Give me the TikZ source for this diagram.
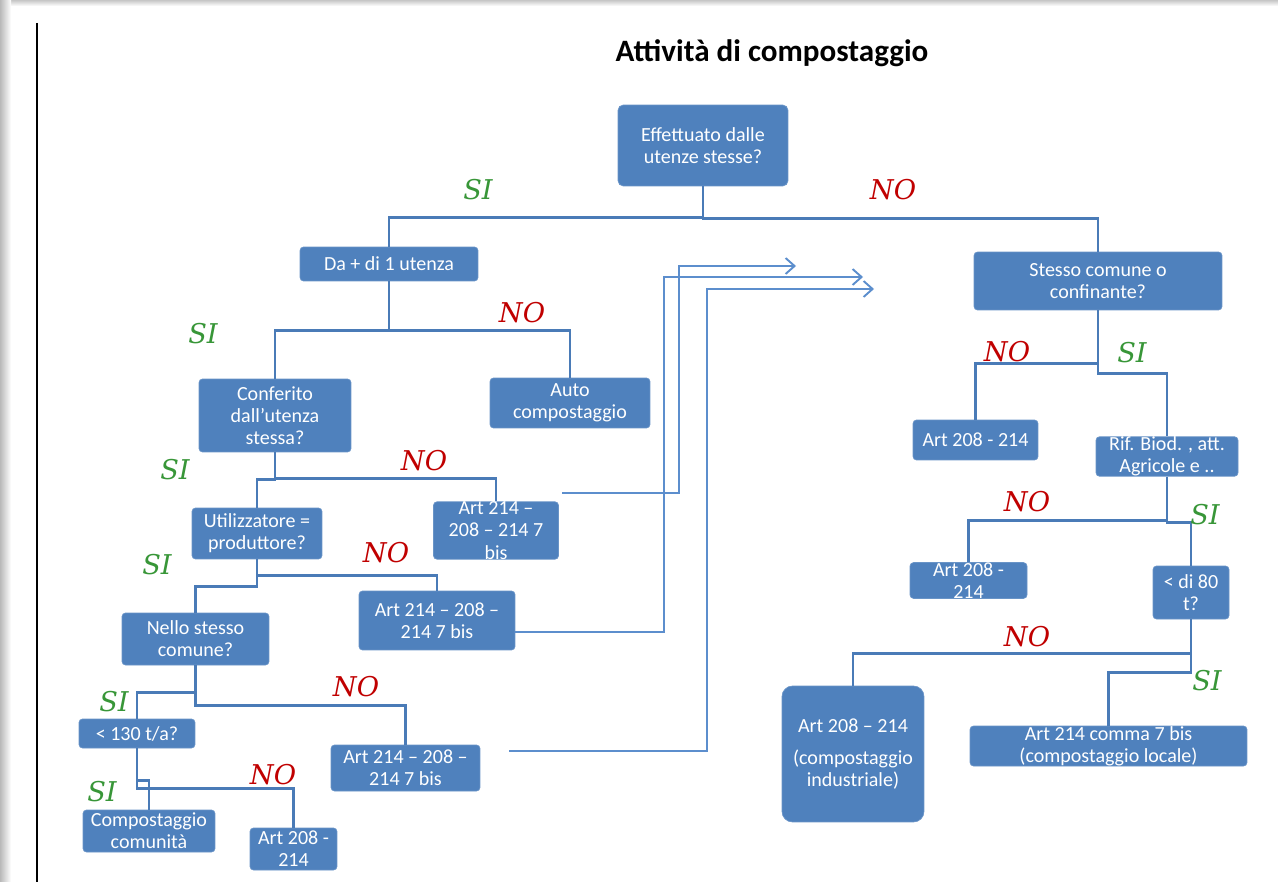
\documentclass[tikz,border=0pt]{standalone}
\usepackage{fontspec}
\setmainfont{Carlito}
\newfontfamily\labelfont{DejaVu Serif}
\usetikzlibrary{arrows.meta}

\definecolor{kastenblau}{RGB}{79,129,189}
\definecolor{linienblau}{RGB}{74,123,183}
\definecolor{pfeilblau}{RGB}{92,142,205}
\definecolor{sigruen}{RGB}{56,150,56}
\definecolor{norot}{RGB}{192,0,0}

\tikzset{
  kasten/.style={fill=kastenblau, draw=kastenblau!85!white, rounded corners=2pt,
    text=white, align=center, inner sep=0pt, font=\fontsize{11.4}{12.6}\selectfont},
  linie/.style={draw=linienblau, line width=1.5pt},
  pfeil/.style={draw=pfeilblau, line width=1.1pt, -{Straight Barb[length=1.8mm,width=3.2mm]}},
  siLabel/.style={text=sigruen, font=\labelfont\itshape\fontsize{15.5}{18}\selectfont},
  noLabel/.style={text=norot, font=\labelfont\itshape\fontsize{15.5}{18}\selectfont},
}

\begin{document}
\begin{tikzpicture}[x=0.02cm, y=-0.02cm]
\useasboundingbox (0,0) rectangle (1278,882);
% Seitenrand:
\shade[top color=gray!45, bottom color=white] (0,0) rectangle (1278,6);
\shade[left color=gray!55, right color=white] (0,0) rectangle (11,882);
\draw[line width=1pt] (37,23) -- (37,882); % linker Strich

\node[font=\fontsize{17.7}{20}\selectfont\bfseries] (titel) at (772,53) {Attività di compostaggio};

% linker Zweig:
\node[kasten, rounded corners=3pt, minimum width=3.4cm, minimum height=1.62cm] (eff) at (703,145.5) {Effettuato dalle\\utenze stesse?};
\node[kasten, minimum width=3.56cm, minimum height=0.68cm] (da) at (389,264) {Da + di 1 utenza};
\node[kasten, minimum width=3.04cm, minimum height=1.46cm] (conf) at (275,415.5) {Conferito\\dall’utenza\\stessa?};
\node[kasten, minimum width=3.2cm, minimum height=1cm] (auto) at (570,403) {Auto\\compostaggio};
\node[kasten, minimum width=2.6cm, minimum height=1.02cm] (util) at (257,533.5) {Utilizzatore =\\produttore?};
\node[kasten, minimum width=2.5cm, minimum height=1.1cm] (art1) at (496,530.5) {Art 214 –\\208 – 214 7\\bis};
\node[kasten, minimum width=2.94cm, minimum height=1.04cm] (nello) at (195.5,639) {Nello stesso\\comune?};
\node[kasten, minimum width=3.12cm, minimum height=1.18cm] (art2) at (437,620.5) {Art 214 – 208 –\\214 7 bis};
\node[kasten, minimum width=2.32cm, minimum height=0.58cm] (lt130) at (137,733.5) {< 130 t/a?};
\node[kasten, minimum width=2.98cm, minimum height=0.92cm] (art3) at (405.5,768) {Art 214 – 208 –\\214 7 bis};
\node[kasten, minimum width=2.64cm, minimum height=0.84cm] (comp) at (149,831) {Compostaggio\\comunità};
\node[kasten, minimum width=1.74cm, minimum height=0.84cm] (art4) at (293.5,849) {Art 208 -\\214};

% rechter Zweig:
\node[kasten, minimum width=4.96cm, minimum height=1.16cm] (stesso) at (1098,281) {Stesso comune o\\confinante?};
\node[kasten, minimum width=2.5cm, minimum height=0.8cm] (r1) at (975.5,440) {Art 208 - 214};
\node[kasten, minimum width=2.84cm, minimum height=0.78cm] (rif) at (1167,456.5) {Rif. Biod. , att.\\Agricole e ..};
\node[kasten, minimum width=2.34cm, minimum height=0.7cm] (r2) at (968.5,580.5) {Art 208 -\\214};
\node[kasten, minimum width=1.52cm, minimum height=1.06cm] (lt80) at (1191,592.5) {< di 80\\t?};
\node[kasten, rounded corners=6pt, minimum width=2.84cm, minimum height=2.72cm] (r3) at (853,754) {Art 208 – 214\\[6pt](compostaggio\\industriale)};
\node[kasten, minimum width=5.54cm, minimum height=0.8cm] (r4) at (1108.5,746) {Art 214 comma 7 bis\\(compostaggio locale)};

% Verbindungen:
\draw[linie] (eff.south) -- ++(0,31) -| (da.north);
\draw[linie] (eff.south) -- ++(0,32) -| (stesso.north);
\draw[linie] (da.south) -- ++(0,49) -| (conf.north);
\draw[linie] (da.south) -- ++(0,49) -| (auto.north);
\draw[linie] (conf.south) -- ++(0,27) -| (util.north);
\draw[linie] (conf.south) -- ++(0,26) -| (art1.north);
\draw[linie] (util.south) -- ++(0,27) -| (nello.north);
\draw[linie] (util.south) -- ++(0,16) -| (art2.north);
\draw[linie] (nello.south) -- ++(0,27) -| (lt130.north);
\draw[linie] (nello.south) -- ++(0,40) -| (art3.north);
\draw[linie] (lt130.south) -- ++(0,32) -| (comp.north);
\draw[linie] (lt130.south) -- ++(0,40) -| (art4.north);
\draw[linie] (stesso.south) -- ++(0,53) -| (r1.north);
\draw[linie] (stesso.south) -- ++(0,63) -| (rif.north);
\draw[linie] (rif.south) -- ++(0,44) -| (r2.north);
\draw[linie] (rif.south) -- ++(0,46) -| (lt80.north);
\draw[linie] (lt80.south) -- ++(0,34) -| (r3.north);
\draw[linie] (lt80.south) -- ++(0,53) -| (r4.north);

% Pfeile nach rechts:
\coordinate (z1) at (796,266);
\coordinate (z2) at (863,277);
\coordinate (z3) at (874,289);
\draw[pfeil] ([shift={(3.5,-8)}]art1.north east) -- ++(117,0) |- (z1);
\draw[pfeil] ([shift={(0,11.5)}]art2.east) -- ++(149,0) |- (z2);
\draw[pfeil] ([shift={(29,-17)}]art3.east) -- ++(198,0) |- (z3);

% SI / NO:
\node[siLabel] (si1) at (478,190) {SI};
\node[noLabel] (no1) at (893,190) {NO};
\node[siLabel] (si2) at (203,334) {SI};
\node[noLabel] (no2) at (522,313) {NO};
\node[siLabel] (si3) at (175,470) {SI};
\node[noLabel] (no3) at (424,461) {NO};
\node[siLabel] (si4) at (157,565) {SI};
\node[noLabel] (no4) at (386,553) {NO};
\node[siLabel] (si5) at (114,702) {SI};
\node[noLabel] (no5) at (356,687) {NO};
\node[siLabel] (si6) at (102,792) {SI};
\node[noLabel] (no6) at (273,775) {NO};
\node[noLabel] (no7) at (1007,352) {NO};
\node[siLabel] (si7) at (1132,353) {SI};
\node[noLabel] (no8) at (1027,502) {NO};
\node[siLabel] (si8) at (1205,515) {SI};
\node[noLabel] (no9) at (1027,637) {NO};
\node[siLabel] (si9) at (1207,681) {SI};
\end{tikzpicture}
\end{document}
